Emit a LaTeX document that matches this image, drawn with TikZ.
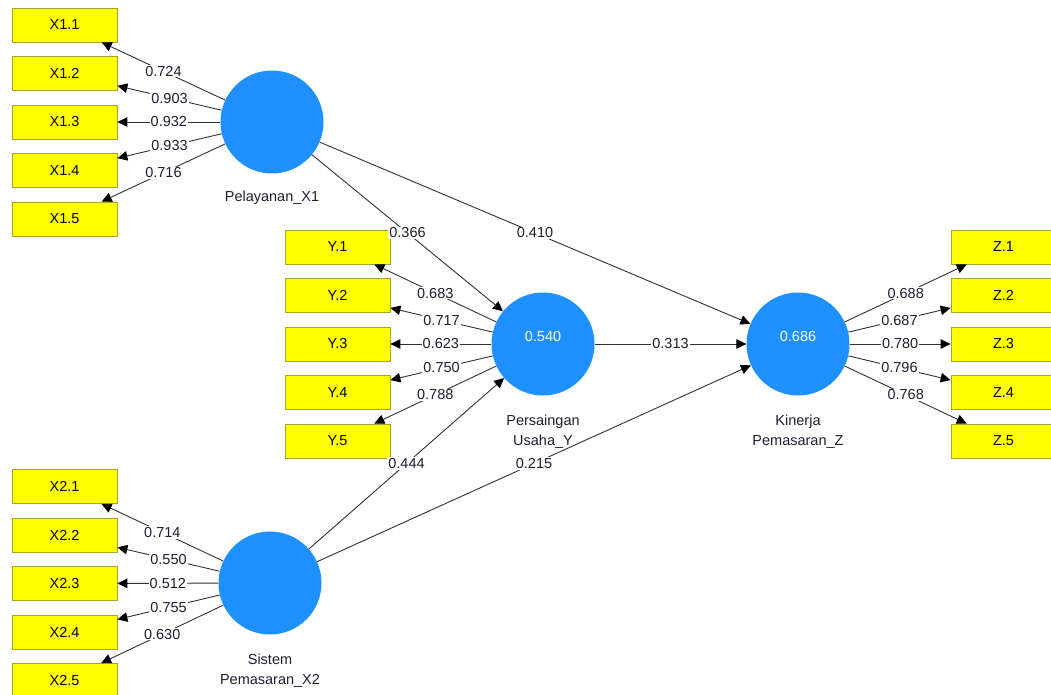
\documentclass[tikz,border=0pt]{standalone}
\usepackage{fontspec}
\setmainfont{Liberation Sans}
\usetikzlibrary{arrows.meta}
\definecolor{boxfill}{RGB}{255,255,0}
\definecolor{boxdraw}{RGB}{165,165,40}
\definecolor{lv}{RGB}{30,144,255}
\definecolor{edgec}{RGB}{50,50,50}
\definecolor{txt}{RGB}{30,30,50}
\newcommand\myfs{\fontsize{14.5}{20}\selectfont}
\begin{document}
\begin{tikzpicture}[x=1pt,y=-1pt,
  ind/.style={draw=boxdraw, line width=0.8pt, fill=boxfill, minimum width=105pt, minimum height=34pt, inner sep=0pt, font=\myfs, text=black},
  lat/.style={circle, fill=lv, minimum size=103pt, inner sep=0pt},
  rsq/.style={font=\myfs, text=white},
  ld/.style={draw=edgec, line width=0.9pt, -{Triangle[length=10pt,width=9.5pt,color=black]}},
  lab/.style={fill=white, inner sep=1pt, font=\myfs, text=txt},
  lvname/.style={font=\myfs, text=txt, align=center}]
\useasboundingbox (0,0) rectangle (1051,695);
\clip (0,0) rectangle (1051,695);
\fill[white] (0,0) rectangle (1051,695);

% indicator boxes
\node[ind] (X11) at (64.5,25) {X1.1};
\node[ind] (X12) at (64.5,73.5) {X1.2};
\node[ind] (X13) at (64.5,122) {X1.3};
\node[ind] (X14) at (64.5,170.5) {X1.4};
\node[ind] (X15) at (64.5,219) {X1.5};

\node[ind] (Y1) at (337.5,247) {Y.1};
\node[ind] (Y2) at (337.5,295.5) {Y.2};
\node[ind] (Y3) at (337.5,344) {Y.3};
\node[ind] (Y4) at (337.5,392.5) {Y.4};
\node[ind] (Y5) at (337.5,441) {Y.5};

\node[ind] (Z1) at (1003.5,247) {Z.1};
\node[ind] (Z2) at (1003.5,295.5) {Z.2};
\node[ind] (Z3) at (1003.5,344) {Z.3};
\node[ind] (Z4) at (1003.5,392.5) {Z.4};
\node[ind] (Z5) at (1003.5,441) {Z.5};

\node[ind] (X21) at (64.5,486.5) {X2.1};
\node[ind] (X22) at (64.5,535) {X2.2};
\node[ind] (X23) at (64.5,583.5) {X2.3};
\node[ind] (X24) at (64.5,632) {X2.4};
\node[ind] (X25) at (64.5,680.5) {X2.5};

% latent variables
\node[lat] (PX) at (272,122) {};
\node[lat] (PY) at (543,344) {};
\node[lat] (KZ) at (798,344) {};
\node[lat] (SX) at (270,583) {};

\node[rsq] (rPY) at (543,337) {0.540};
\node[rsq] (rKZ) at (798,337) {0.686};

\node[lvname] (nPX) at (272,198) {Pelayanan\_X1};
\node[lvname] (nPY) at (543,431.5) {Persaingan\\Usaha\_Y};
\node[lvname] (nKZ) at (798,431.5) {Kinerja\\Pemasaran\_Z};
\node[lvname] (nSX) at (270,671) {Sistem\\Pemasaran\_X2};

% outer loadings
\draw[ld] (PX) -- node[lab]{0.724} (X11);
\draw[ld] (PX) -- node[lab]{0.903} (X12);
\draw[ld] (PX) -- node[lab]{0.932} (X13);
\draw[ld] (PX) -- node[lab]{0.933} (X14);
\draw[ld] (PX) -- node[lab]{0.716} (X15);

\draw[ld] (PY) -- node[lab]{0.683} (Y1);
\draw[ld] (PY) -- node[lab]{0.717} (Y2);
\draw[ld] (PY) -- node[lab]{0.623} (Y3);
\draw[ld] (PY) -- node[lab]{0.750} (Y4);
\draw[ld] (PY) -- node[lab]{0.788} (Y5);

\draw[ld] (KZ) -- node[lab]{0.688} (Z1);
\draw[ld] (KZ) -- node[lab]{0.687} (Z2);
\draw[ld] (KZ) -- node[lab]{0.780} (Z3);
\draw[ld] (KZ) -- node[lab]{0.796} (Z4);
\draw[ld] (KZ) -- node[lab]{0.768} (Z5);

\draw[ld] (SX) -- node[lab]{0.714} (X21);
\draw[ld] (SX) -- node[lab]{0.550} (X22);
\draw[ld] (SX) -- node[lab]{0.512} (X23);
\draw[ld] (SX) -- node[lab]{0.755} (X24);
\draw[ld] (SX) -- node[lab]{0.630} (X25);

% structural paths
\draw[ld] (PX) -- node[lab]{0.366} (PY);
\draw[ld] (PX) -- node[lab]{0.410} (KZ);
\draw[ld] (PY) -- node[lab]{0.313} (KZ);
\draw[ld] (SX) -- node[lab]{0.444} (PY);
\draw[ld] (SX) -- node[lab]{0.215} (KZ);
\end{tikzpicture}
\end{document}
